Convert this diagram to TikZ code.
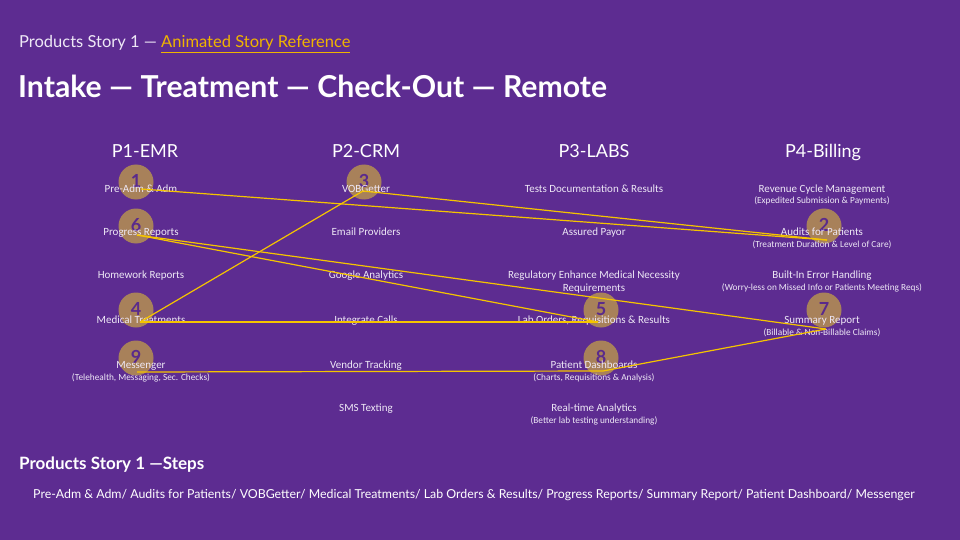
\documentclass[tikz,border=0pt]{standalone}
\usepackage{fontspec}
\setmainfont{Carlito}
\newfontfamily\lato{Lato}[Ligatures=TeX]
\usetikzlibrary{calc}
\definecolor{bgpurple}{HTML}{5D2C91}
\definecolor{tan}{HTML}{A8815A}
\definecolor{numcol}{HTML}{5A2A8C}
\definecolor{gold}{HTML}{F5C400}
\definecolor{linkgold}{HTML}{F0B400}
\definecolor{txt}{HTML}{EEE8F6}
\tikzset{
  x=1pt, y=-1pt,
  stepcirc/.style={circle, fill=tan, minimum size=35pt, inner sep=0pt},
  stepnum/.style={text=numcol, font=\lato\bfseries\fontsize{18}{18}\selectfont, inner sep=0pt},
  colhead/.style={text=white, font=\lato\fontsize{18}{18}\selectfont, inner sep=0pt, anchor=base},
  item/.style={text=txt, font=\fontsize{11}{11}\selectfont, inner sep=0pt, anchor=base},
  subitem/.style={text=txt, font=\fontsize{9.3}{9.3}\selectfont, inner sep=0pt, anchor=base},
  link/.style={draw=gold, line width=1.2pt},
}
\begin{document}
\begin{tikzpicture}
\fill[bgpurple] (0,0) rectangle (960,540);
\useasboundingbox (0,0) rectangle (960,540);

% header texts
\node[anchor=base west, inner sep=0pt, text=txt, font=\lato\fontsize{16.5}{16.5}\selectfont] (sub) at (19,47.5)
  {Products Story 1 — {\color{linkgold}\underline{Animated Story Reference}}};
\node[anchor=base west, inner sep=0pt, text=white, font=\lato\bfseries\fontsize{30.2}{30.2}\selectfont] (title) at (18,98)
  {Intake — Treatment — Check-Out — Remote};

% column heads
\node[colhead] (h1) at (145,158) {P1-EMR};
\node[colhead] (h2) at (366,158) {P2-CRM};
\node[colhead] (h3) at (594,158) {P3-LABS};
\node[colhead] (h4) at (823,158) {P4-Billing};

% circles
\node[stepcirc] (c1) at (136,182) {};
\node[stepcirc] (c2) at (824,226) {};
\node[stepcirc] (c3) at (364,182) {};
\node[stepcirc] (c4) at (136,310) {};
\node[stepcirc] (c5) at (601,310) {};
\node[stepcirc] (c6) at (136,226) {};
\node[stepcirc] (c7) at (824,310) {};
\node[stepcirc] (c8) at (601,358) {};
\node[stepcirc] (c9) at (136,358) {};
\foreach \i in {1,...,9} {\node[stepnum] (n\i) at ($(c\i)+(0,-1)$) {\i};}

% column 1
\node[item] (a1) at (141,192.5) {Pre-Adm \& Adm};
\node[item] (a2) at (141,235.5) {Progress Reports};
\node[item] (a3) at (141,278.5) {Homework Reports};
\node[item] (a4) at (141,323.5) {Medical Treatments};
\node[item] (a5) at (141,368.5) {Messenger};
\node[subitem] (a5s) at (141,380) {(Telehealth, Messaging, Sec. Checks)};
% column 2
\node[item] (b1) at (366,192.5) {VOBGetter};
\node[item] (b2) at (366,235.5) {Email Providers};
\node[item] (b3) at (366,278.5) {Google Analytics};
\node[item] (b4) at (366,323.5) {Integrate Calls};
\node[item] (b5) at (366,368.5) {Vendor Tracking};
\node[item] (b6) at (366,411.5) {SMS Texting};
% column 3
\node[item] (d1) at (594,192.5) {Tests Documentation \& Results};
\node[item] (d2) at (594,235.5) {Assured Payor};
\node[item] (d3) at (594,278.5) {Regulatory Enhance Medical Necessity};
\node[item] (d3b) at (594,291.5) {Requirements};
\node[item] (d4) at (594,323.5) {Lab Orders, Requisitions \& Results};
\node[item] (d5) at (594,368.5) {Patient Dashboards};
\node[subitem] (d5s) at (594,380) {(Charts, Requisitions \& Analysis)};
\node[item] (d6) at (594,411.5) {Real-time Analytics};
\node[subitem] (d6s) at (594,423) {(Better lab testing understanding)};
% column 4
\node[item] (e1) at (822,192.5) {Revenue Cycle Management};
\node[subitem] (e1s) at (822,204) {(Expedited Submission \& Payments)};
\node[item] (e2) at (822,235.5) {Audits for Patients};
\node[subitem] (e2s) at (822,247) {(Treatment Duration \& Level of Care)};
\node[item] (e3) at (822,278.5) {Built-In Error Handling};
\node[subitem] (e3s) at (822,290) {(Worry-less on Missed Info or Patients Meeting Reqs)};
\node[item] (e4) at (822,323.5) {Summary Report};
\node[subitem] (e4s) at (822,335) {(Billable \& Non-Billable Claims)};

% connector endpoints
\coordinate (p1) at (141,189);
\coordinate (p2) at (827,240);
\coordinate (p3) at (363,191);
\coordinate (p4) at (140,322);
\coordinate (p5) at (598,322);
\coordinate (p6) at (137,235);
\coordinate (p7) at (826,329);
\coordinate (p8) at (603,371);
\coordinate (p9) at (137,372);
\draw[link] (p1) -- (p2);
\draw[link] (p2) -- (p3);
\draw[link] (p3) -- (p4);
\draw[link] (p4) -- (p5);
\draw[link] (p5) -- (p6);
\draw[link] (p6) -- (p7);
\draw[link] (p7) -- (p8);
\draw[link] (p8) -- (p9);

% footer
\node[anchor=base west, inner sep=0pt, text=white, font=\lato\bfseries\fontsize{17}{17}\selectfont] (steps) at (19,469.5)
  {Products Story 1 —Steps};
\node[anchor=base west, inner sep=0pt, text=white, font=\lato\fontsize{12.35}{12.35}\selectfont] (stepline) at (33,498)
  {Pre-Adm \& Adm/ Audits for Patients/ VOBGetter/ Medical Treatments/ Lab Orders \& Results/ Progress Reports/ Summary Report/ Patient Dashboard/ Messenger};
\end{tikzpicture}
\end{document}
